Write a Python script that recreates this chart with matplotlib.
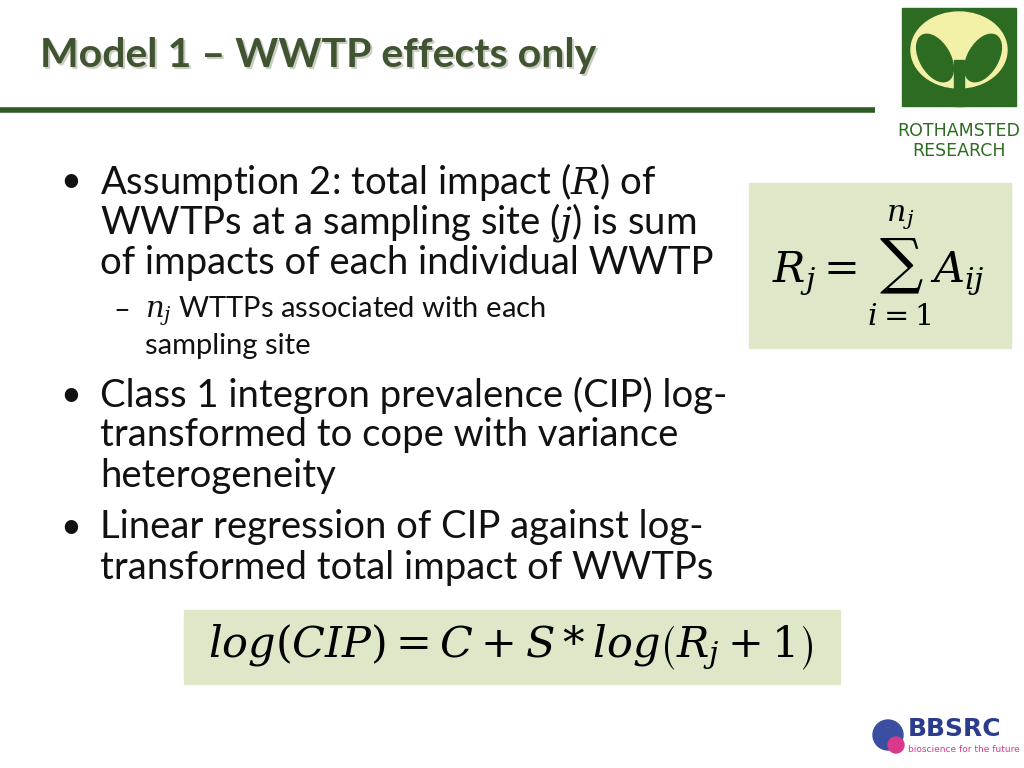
import matplotlib
matplotlib.use("Agg")
import matplotlib.pyplot as plt
from matplotlib.patches import Rectangle, Ellipse

title = "Model 1 – WWTP effects only"
main_lines = [
    (100, 182, "Assumption 2: total impact ($\\it{R}$) of", 1),
    (100, 222, "WWTPs at a sampling site ($\\it{j}$) is sum", 0),
    (100, 263, "of impacts of each individual WWTP", 0),
    (100, 395, "Class 1 integron prevalence (CIP) log-", 1),
    (100, 435, "transformed to cope with variance", 0),
    (100, 476, "heterogeneity", 0),
    (100, 527, "Linear regression of CIP against log-", 1),
    (100, 568, "transformed total impact of WWTPs", 0),
]
sub_lines = [
    (145, 311, "$\\it{n_j}$ WTTPs associated with each", 1),
    (145, 346, "sampling site", 0),
]
eq1 = r"$R_j = \sum_{i=1}^{n_j} A_{ij}$"
eq2 = r"$log(CIP) = C + S * log\left(R_j + 1\right)$"

W, H = 1024, 768
fig = plt.figure(figsize=(10.24, 7.68), dpi=100)
ax = fig.add_axes([0, 0, 1, 1])
ax.set_xlim(0, W); ax.set_ylim(H, 0); ax.axis("off")
plt.rcParams["mathtext.fontset"] = "dejavuserif"
FONT = "Lato"

# title
ax.text(42, 57, title, fontsize=29.5, fontweight="bold", color="#c9cdc2", family=FONT, va="center")
ax.text(40, 55, title, fontsize=29.5, fontweight="bold", color="#415432", family=FONT, va="center")
ax.plot([0, 875], [110, 110], color="#2f5a22", lw=4, solid_capstyle="butt")

# Rothamsted logo
ax.add_patch(Rectangle((902, 8), 114, 98, color="#2e6b22"))
ax.add_patch(Ellipse((959, 50), 96, 76, color="#f3f0a8"))
ax.add_patch(Ellipse((935, 58), 30, 52, angle=-30, color="#2e6b22"))
ax.add_patch(Ellipse((983, 58), 30, 52, angle=30, color="#2e6b22"))
ax.add_patch(Rectangle((954, 60), 10, 46, color="#2e6b22"))
ax.text(959, 131, "ROTHAMSTED", fontsize=12.5, color="#2e6b22", ha="center", va="center", family="DejaVu Sans Condensed")
ax.text(959, 151, "RESEARCH", fontsize=12.5, color="#2e6b22", ha="center", va="center", family="DejaVu Sans")

for x, y, s, b in main_lines:
    if b:
        ax.text(60, y, "•", fontsize=26, family=FONT, va="center", color="#111")
    ax.text(x, y, s, fontsize=27.5, family=FONT, va="center", color="#111")
for x, y, s, b in sub_lines:
    if b:
        ax.text(113, y, "–", fontsize=21, family=FONT, va="center", color="#111")
    ax.text(x, y, s, fontsize=21, family=FONT, va="center", color="#111")

ax.add_patch(Rectangle((749, 183), 262, 165, color="#dfe7c9"))
ax.text(878, 266, eq1, fontsize=31, ha="center", va="center")
ax.add_patch(Rectangle((184, 610), 656, 74, color="#dfe7c9"))
ax.text(511, 648, eq2, fontsize=31, ha="center", va="center")

# BBSRC logo
ax.add_patch(Ellipse((888, 735), 30, 30, color="#3a4fa0"))
ax.add_patch(Ellipse((896, 745), 16, 16, color="#d93a8c"))
ax.text(908, 729, "BBSRC", fontsize=18, fontweight="bold", color="#2b3c8c", va="center", family="DejaVu Sans")
ax.text(908, 750, "bioscience for the future", fontsize=6.5, color="#d93a8c", va="center")

fig.savefig("out.png", dpi=100)
